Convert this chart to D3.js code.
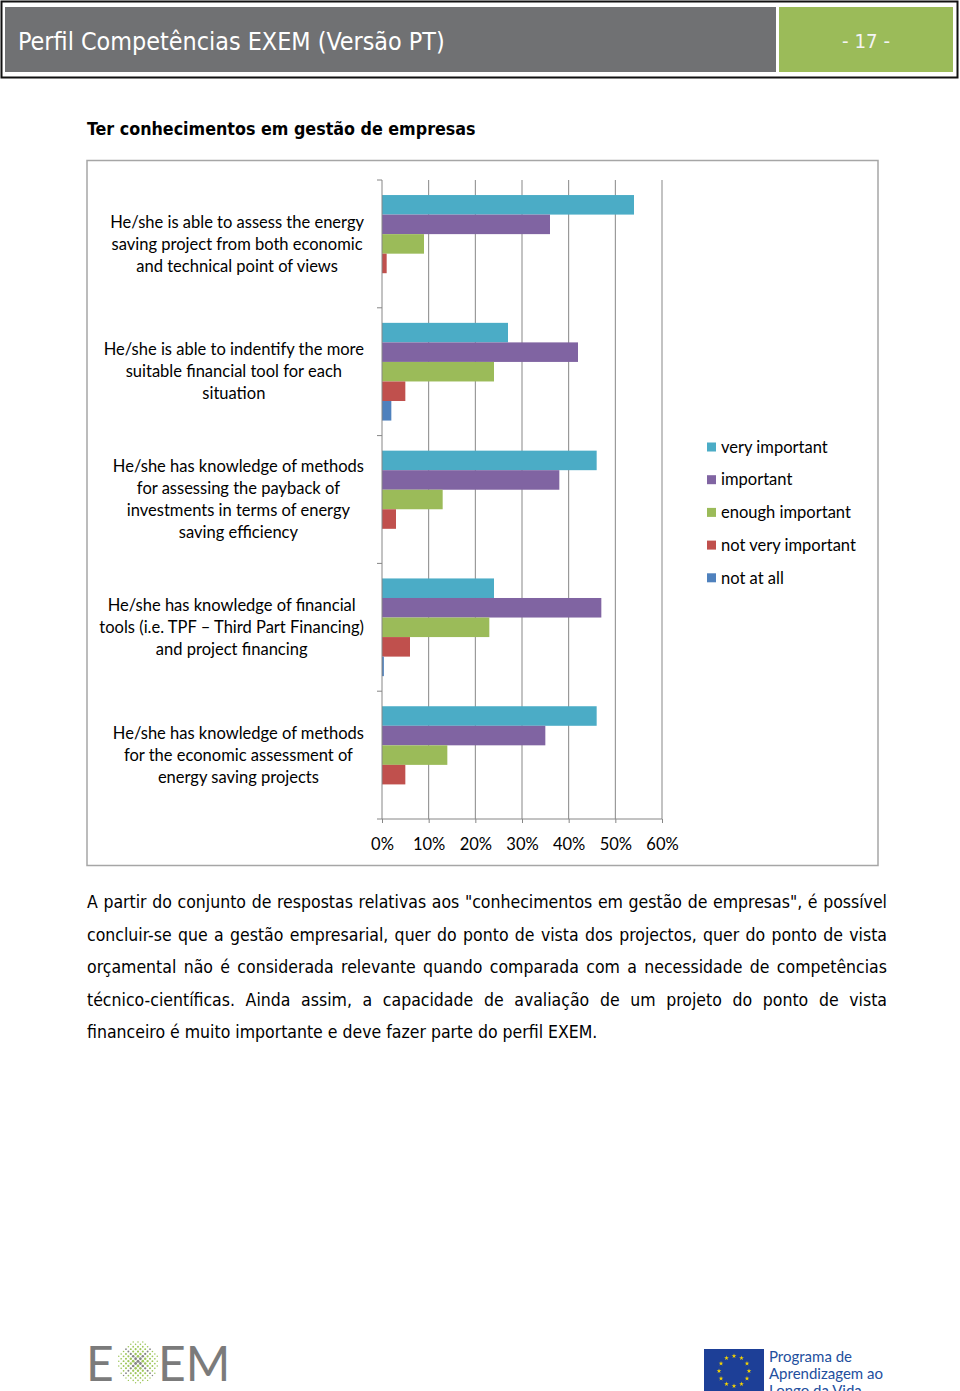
<!DOCTYPE html>
<html><head><meta charset="utf-8">
<script src="https://cdn.jsdelivr.net/npm/d3@7"></script>
<style>body{margin:0;background:#fff}svg{display:block}</style>
</head><body>
<svg id="c" width="960" height="1391"></svg>
<script>
// ---------- data ----------
const categories = [
  "He/she is able to assess the energy|saving project from both economic|and technical point of views",
  "He/she is able to indentify the more|suitable financial tool for each|situation",
  "He/she has knowledge of methods|for assessing the payback of|investments in terms of energy|saving efficiency",
  "He/she has knowledge of financial|tools (i.e. TPF – Third Part Financing)|and project financing",
  "He/she has knowledge of methods|for the economic assessment of|energy saving projects"
];
const seriesNames = ["very important", "important", "enough important", "not very important", "not at all"];
const veryImportant    = [54, 27, 46, 24, 46];
const important        = [36, 42, 38, 47, 35];
const enoughImportant  = [9, 24, 13, 23, 14];
const notVeryImportant = [1, 5, 3, 6, 5];
const notAtAll         = [0, 2, 0, 0.4, 0];
const xTicks = [0, 10, 20, 30, 40, 50, 60];
const colors = ["#4BACC6", "#8064A2", "#9BBB59", "#C0504D", "#4F81BD"];

const headerTitle = "Perfil Competências EXEM (Versão PT)";
const pageNum = "- 17 -";
const sectionTitle = "Ter conhecimentos em gestão de empresas";
const paragraph = [
  "A partir do conjunto de respostas relativas aos \"conhecimentos em gestão de empresas\", é possível",
  "concluir-se que a gestão empresarial, quer do ponto de vista dos projectos, quer do ponto de vista",
  "orçamental não é considerada relevante quando comparada com a necessidade de competências",
  "técnico-científicas. Ainda assim, a capacidade de avaliação de um projeto do ponto de vista",
  "financeiro é muito importante e deve fazer parte do perfil EXEM."
];
const euText = ["Programa de", "Aprendizagem ao", "Longo da Vida"];

const seriesValues = [veryImportant, important, enoughImportant, notVeryImportant, notAtAll];
const svg = d3.select("#c");
svg.append("rect").attr("width", 960).attr("height", 1391).attr("fill", "#fff");

const BODY = "'DejaVu Sans Condensed', 'DejaVu Sans', sans-serif";
const CHART = "Lato, 'Open Sans', sans-serif";

// measuring helper
const meas = svg.append("text").attr("x", -1000).attr("y", -1000);
function widthOf(txt, family, size, weight) {
  meas.attr("font-family", family).attr("font-size", size).attr("font-weight", weight || "normal").text(txt);
  return meas.node().getComputedTextLength();
}
function fitSize(txt, family, target, weight) {
  return 100 * target / widthOf(txt, family, 100, weight);
}

// ---------- header ----------
svg.append("rect").attr("x", 1.5).attr("y", 1.5).attr("width", 956).attr("height", 76)
  .attr("fill", "#fff").attr("stroke", "#111").attr("stroke-width", 2);
svg.append("rect").attr("x", 5).attr("y", 7).attr("width", 771).attr("height", 65).attr("fill", "#707173");
svg.append("rect").attr("x", 779).attr("y", 7).attr("width", 174).attr("height", 65).attr("fill", "#9BBB59");
const hs = fitSize(headerTitle, BODY, 427);
svg.append("text").attr("x", 18).attr("y", 50).attr("font-family", BODY).attr("font-size", hs)
  .attr("fill", "#fff").text(headerTitle);
const ps = Math.min(22, fitSize(pageNum, BODY, 48));
svg.append("text").attr("x", 866).attr("y", 48).attr("text-anchor", "middle").attr("font-family", BODY)
  .attr("font-size", ps).attr("fill", "#f4f4f4").text(pageNum);

// ---------- section title ----------
const ts = fitSize(sectionTitle, BODY, 389, "bold");
svg.append("text").attr("x", 87).attr("y", 135).attr("font-family", BODY).attr("font-weight", "bold")
  .attr("font-size", ts).attr("fill", "#000").text(sectionTitle);

// ---------- chart frame ----------
svg.append("rect").attr("x", 87).attr("y", 160.5).attr("width", 791).attr("height", 705)
  .attr("fill", "#fff").attr("stroke", "#a6a6a6").attr("stroke-width", 1.5);

const x = d3.scaleLinear().domain([0, 60]).range([382, 662]);
const y = d3.scaleBand().domain(categories).range([180, 819]).paddingInner(0).paddingOuter(0);
const yInner = d3.scaleBand().domain(seriesNames).range([0, y.bandwidth()]).paddingInner(0).paddingOuter(0.77);

// gridlines
svg.append("g").selectAll("line").data(xTicks.slice(1)).join("line")
  .attr("x1", d => x(d)).attr("x2", d => x(d)).attr("y1", 180).attr("y2", 819)
  .attr("stroke", "#878787").attr("stroke-width", 1);

// bars
const rows = [];
categories.forEach((c, i) => seriesNames.forEach((s, j) => rows.push({c, s, j, v: seriesValues[j][i]})));
svg.append("g").selectAll("rect").data(rows.filter(d => d.v > 0)).join("rect")
  .attr("x", x(0)).attr("y", d => y(d.c) + yInner(d.s))
  .attr("width", d => Math.max(1, x(d.v) - x(0))).attr("height", yInner.bandwidth())
  .attr("fill", d => colors[d.j]);

// category axis (left)
const yEdges = categories.map(c => y(c)).concat([y.range()[1]]);
const ax = svg.append("g");
ax.append("line").attr("x1", 382).attr("x2", 382).attr("y1", 180).attr("y2", 819).attr("stroke", "#868686");
ax.selectAll("line.tk").data(yEdges).join("line").attr("class", "tk")
  .attr("x1", 377).attr("x2", 382).attr("y1", d => d).attr("y2", d => d).attr("stroke", "#868686");

// value axis (bottom)
const xAxis = d3.axisBottom(x).tickValues(xTicks).tickFormat(d => d + "%").tickSize(4).tickPadding(15);
const gx = svg.append("g").attr("transform", "translate(0,819)").call(xAxis);
gx.select(".domain").attr("stroke", "#868686").attr("d", "M382,0H662");
gx.selectAll(".tick line").attr("stroke", "#868686");

// category labels
const labelLine = "He/she is able to assess the energy";
const ls = fitSize(labelLine, CHART, 254);
gx.selectAll("text").attr("font-family", CHART).attr("font-size", ls).attr("fill", "#000");
categories.forEach(c => {
  const lines = c.split("|");
  const maxW = d3.max(lines, l => widthOf(l, CHART, ls));
  const cx = 364 - maxW / 2;
  const cy = y(c) + y.bandwidth() / 2;
  const lh = 22;
  const t = svg.append("text").attr("font-family", CHART).attr("font-size", ls).attr("fill", "#000")
    .attr("text-anchor", "middle");
  lines.forEach((l, k) => {
    t.append("tspan").attr("x", cx).attr("y", cy + (k - (lines.length - 1) / 2) * lh).attr("dy", "0.35em").text(l);
  });
});

// legend
const lg = svg.append("g");
seriesNames.forEach((s, j) => {
  const cy = 447 + j * 32.7;
  lg.append("rect").attr("x", 707).attr("y", cy - 4.5).attr("width", 9).attr("height", 9).attr("fill", colors[j]);
  lg.append("text").attr("x", 721).attr("y", cy).attr("dy", "0.35em").attr("font-family", CHART)
    .attr("font-size", ls).attr("fill", "#000").text(s);
});

// ---------- paragraph ----------
const bs = fitSize(paragraph[4], BODY, 511);
paragraph.forEach((line, i) => {
  const t = svg.append("text").attr("x", 87).attr("y", 908 + i * 32.6).attr("font-family", BODY)
    .attr("font-size", bs).attr("fill", "#000").text(line);
  if (i < paragraph.length - 1) {
    const w = t.node().getComputedTextLength();
    const spaces = line.split(" ").length - 1;
    t.attr("word-spacing", (800 - w) / spaces);
  }
});

// ---------- footer: EXEM logo ----------
const LOGO = "Lato, 'Open Sans', sans-serif";
svg.append("text").attr("x", 86).attr("y", 1381).attr("font-family", LOGO).attr("font-weight", 400)
  .attr("font-size", 48).attr("fill", "#7b7b7b").text("E");
svg.append("text").attr("x", 158).attr("y", 1381).attr("font-family", LOGO).attr("font-weight", 400)
  .attr("font-size", 48).attr("fill", "#7b7b7b").text("EM");
const dots = [];
const cxL = 138, cyL = 1362, R = 21, step = 3.4;
for (let u = -R; u <= R; u += step) {
  for (let v = -R; v <= R; v += step) {
    const px = (u - v) / Math.SQRT2, py = (u + v) / Math.SQRT2;
    const r = Math.hypot(px, py);
    if (r > R) continue;
    const gray = Math.abs(u) < 2.5 || Math.abs(v) < 2.5;
    dots.push({px: cxL + px, py: cyL + py, rad: 1.55 * (1 - r / R * 0.55), gray});
  }
}
svg.append("g").selectAll("circle").data(dots).join("circle")
  .attr("cx", d => d.px).attr("cy", d => d.py).attr("r", d => d.rad)
  .attr("fill", d => d.gray ? "#858585" : "#9ec65a");

// ---------- footer: EU programme ----------
svg.append("rect").attr("x", 704).attr("y", 1349).attr("width", 60).attr("height", 44).attr("fill", "#1d3f97");
const star = d3.symbol().type(d3.symbolStar).size(7);
d3.range(12).forEach(k => {
  const a = k / 12 * 2 * Math.PI;
  svg.append("path").attr("d", star).attr("fill", "#f5d300")
    .attr("transform", `translate(${734 + 15 * Math.sin(a)},${1371 - 15 * Math.cos(a)})`);
});
euText.forEach((l, k) => {
  svg.append("text").attr("x", 769).attr("y", 1362 + k * 17).attr("font-family", CHART)
    .attr("font-size", 15).attr("fill", "#234f9e").text(l);
});
meas.remove();
</script>
</body></html>
